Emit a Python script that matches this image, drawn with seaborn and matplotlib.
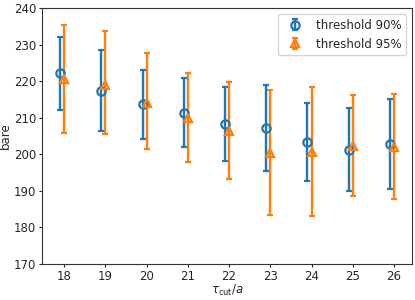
import matplotlib
matplotlib.use("Agg")
import matplotlib.pyplot as plt
import seaborn as sns
import numpy as np

tcut = [18, 19, 20, 21, 22, 23, 24, 25, 26]

val90 = [222.2, 217.4, 213.7, 211.4, 208.4, 207.3, 203.4, 201.2, 202.7]
up90 = [232.2, 228.5, 223.2, 220.8, 218.5, 219.0, 214.0, 212.8, 215.2]
lo90 = [212.2, 206.3, 204.2, 202.0, 198.3, 195.5, 192.8, 190.1, 190.5]

val95 = [220.6, 219.0, 214.1, 209.9, 206.5, 200.3, 200.6, 202.3, 202.1]
up95 = [235.4, 233.6, 227.6, 222.3, 219.8, 217.6, 218.4, 216.1, 216.5]
lo95 = [205.9, 205.6, 201.5, 198.0, 193.3, 183.4, 183.2, 188.7, 187.8]

labels = ["threshold 90%", "threshold 95%"]

sns.set_style("ticks")
plt.rcParams['font.family'] = ['DejaVu Sans']
pal = sns.color_palette("tab10")

fig, ax = plt.subplots(figsize=(4.15, 3.0), dpi=100)

x = np.array(tcut, dtype=float)
v90 = np.array(val90); v95 = np.array(val95)
ax.errorbar(x - 0.1, v90, yerr=[v90 - np.array(lo90), np.array(up90) - v90],
            fmt='o', mfc='none', mec=pal[0], color=pal[0], ms=6, mew=1.6,
            elinewidth=1.7, capsize=2.4, capthick=1.7, label=labels[0])
ax.errorbar(x, v95, yerr=[v95 - np.array(lo95), np.array(up95) - v95],
            fmt='^', mfc='none', mec=pal[1], color=pal[1], ms=6, mew=1.6,
            elinewidth=1.7, capsize=2.4, capthick=1.7, label=labels[1])

ax.set_xlim(17.47, 26.44)
ax.set_ylim(170, 240)
ax.set_xticks(tcut)
ax.set_yticks(np.arange(170, 241, 10))
ax.tick_params(labelsize=8.5, length=2.5, width=0.8, pad=1.8)
ax.set_xlabel(r"$\tau_{\rm cut}/a$", fontsize=8.5, labelpad=0)
ax.set_ylabel("bare", fontsize=8.5, labelpad=1.5)
for s in ax.spines.values():
    s.set_color('#333333')
    s.set_linewidth(0.8)
ax.legend(loc='upper right', fontsize=8.5, frameon=True, borderaxespad=0.5)

fig.subplots_adjust(left=0.102, right=0.993, top=0.973, bottom=0.12)
fig.savefig("out.png", dpi=100)
